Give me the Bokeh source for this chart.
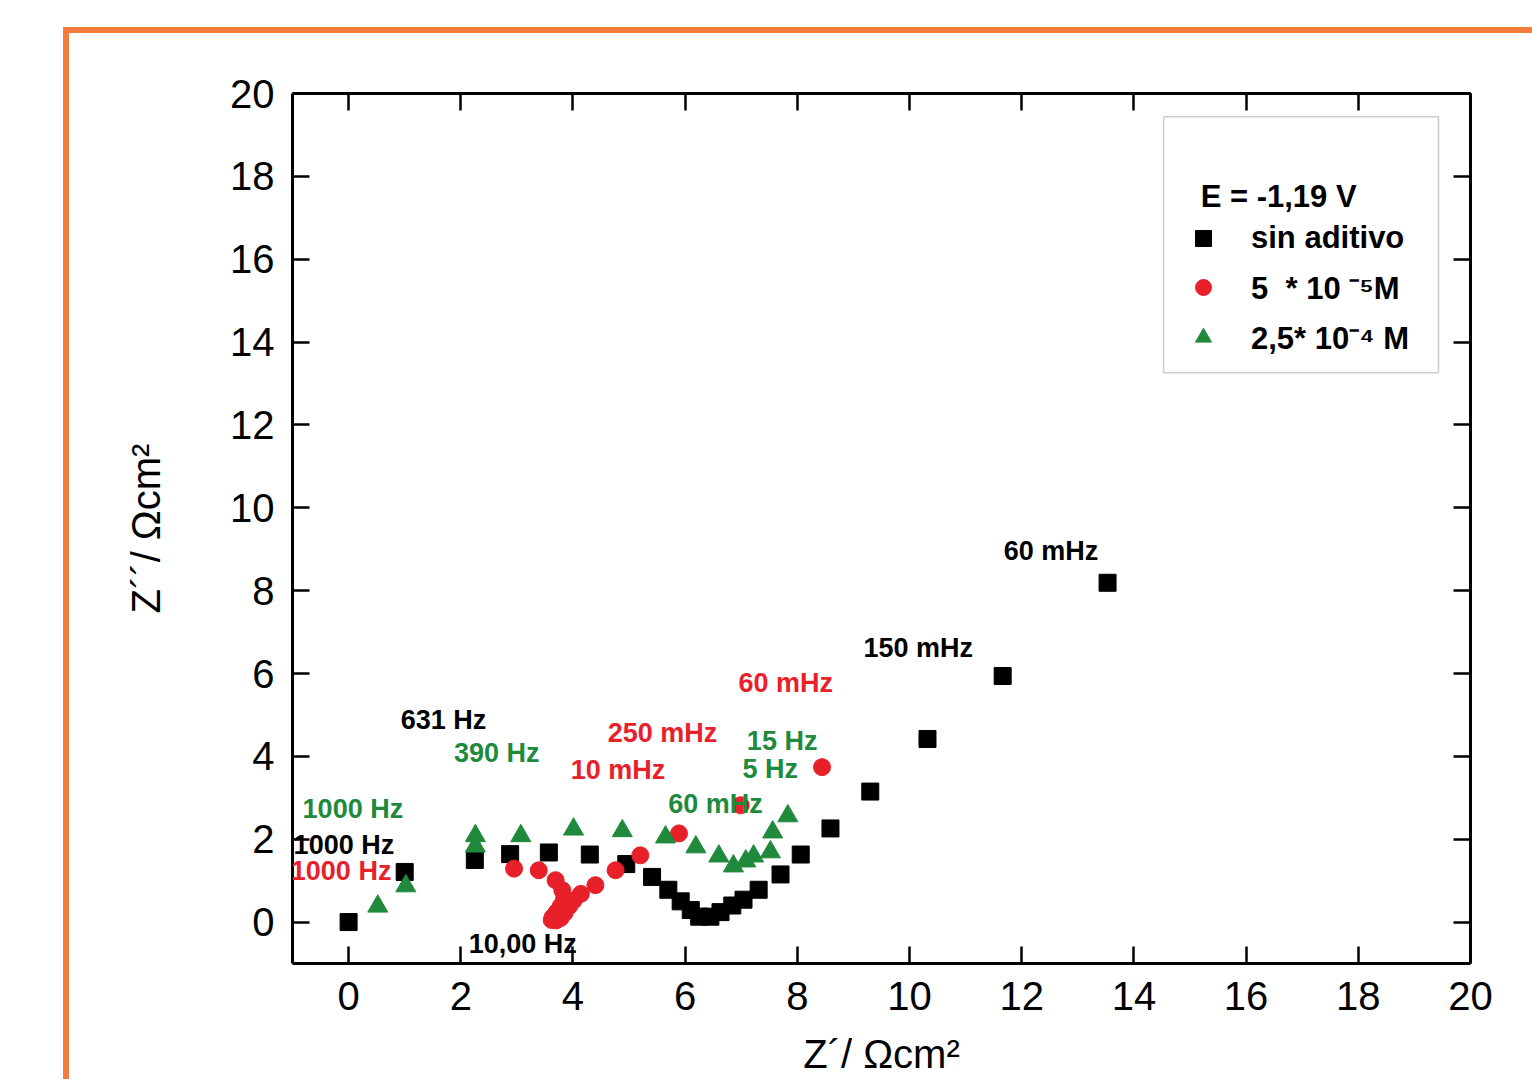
from bokeh.plotting import figure
from bokeh.models import (Range1d, LinearAxis, FixedTicker, ColumnDataSource, LabelSet,
                          Legend, LegendItem, BoxAnnotation, Label)
from bokeh.core.properties import value
from bokeh.embed import file_html
from bokeh.resources import INLINE

# ---- data ----
sin_x = [0.00, 1.00, 2.25, 2.88, 3.57, 4.30, 4.95, 5.41, 5.70, 5.92, 6.10, 6.25, 6.45,
         6.63, 6.84, 7.04, 7.31, 7.70, 8.06, 8.59, 9.30, 10.32, 11.66, 13.53]
sin_y = [0.00, 1.21, 1.50, 1.64, 1.68, 1.63, 1.40, 1.09, 0.78, 0.50, 0.29, 0.13, 0.13,
         0.24, 0.40, 0.54, 0.78, 1.15, 1.63, 2.26, 3.15, 4.42, 5.94, 8.19]

c5_x = [2.95, 3.39, 3.69, 3.81, 3.84, 3.78, 3.71, 3.64, 3.62, 3.70, 3.78, 3.85, 3.93,
        4.01, 4.14, 4.40, 4.76, 5.20, 5.89, 6.99, 8.44]
c5_y = [1.29, 1.25, 1.01, 0.77, 0.56, 0.38, 0.24, 0.12, 0.05, 0.04, 0.10, 0.22, 0.38,
        0.52, 0.68, 0.89, 1.25, 1.61, 2.14, 2.82, 3.74]

c25_x = [0.52, 1.02, 2.26, 2.26, 3.07, 4.01, 4.88, 5.65, 6.19, 6.60, 6.86, 7.08, 7.22,
         7.52, 7.56, 7.83]
c25_y = [0.38, 0.87, 2.08, 1.83, 2.08, 2.24, 2.20, 2.05, 1.81, 1.59, 1.35, 1.47, 1.59,
         1.69, 2.17, 2.56]

lab_text = ["1000 Hz", "1000 Hz", "1000 Hz", "631 Hz", "390 Hz", "10,00 Hz", "250 mHz",
            "10 mHz", "15 Hz", "5 Hz", "60 mHz", "60 mHz", "150 mHz", "60 mHz"]
lab_color = ["#208a3c", "#000000", "#e8202a", "#000000", "#208a3c", "#000000", "#e8202a",
             "#e8202a", "#208a3c", "#208a3c", "#208a3c", "#e8202a", "#000000", "#000000"]
lab_x = [-0.82, -0.98, -1.03, 0.93, 1.88, 2.14, 4.62, 3.96, 7.10, 7.02, 5.70, 6.95, 9.18, 11.68]
lab_y = [2.73, 1.86, 1.23, 4.87, 4.08, -0.53, 4.57, 3.67, 4.37, 3.70, 2.85, 5.77, 6.62, 8.96]

tick_values = [0, 2, 4, 6, 8, 10, 12, 14, 16, 18, 20]
series_names = ["sin aditivo", "5  * 10 \u207b\u2075M", "2,5* 10\u207b\u2074 M"]
legend_title = "E = -1,19 V"

FONT = "Liberation Sans"

# page offsets (orange frame drawn as CSS border around the canvas)
OX, OY, BW = 69, 33, 6

p = figure(frame_width=1178, frame_height=870,
           x_range=Range1d(-1, 20), y_range=Range1d(-1, 20),
           output_backend="svg", toolbar_location=None,
           x_axis_location=None, y_axis_location=None,
           min_border_left=292 - OX, min_border_right=62, min_border_top=93 - OY,
           min_border_bottom=116)
p.grid.visible = False
p.outline_line_color = None
p.background_fill_color = "white"
p.border_fill_color = "white"
p.margin = (OY - BW, 0, 0, OX - BW)
p.styles = {"border-left": "6px solid #f47b3a", "border-top": "6px solid #f47b3a",
            "box-sizing": "content-box"}


def make_axis(show_labels, label=None, label_standoff=0):
    ax = LinearAxis(ticker=FixedTicker(ticks=tick_values),
                    axis_line_width=3, axis_line_color="black",
                    major_tick_in=17, major_tick_out=0, major_tick_line_width=2.5,
                    minor_tick_line_color=None,
                    major_label_text_font=FONT, major_label_text_font_size="40px",
                    major_label_text_color="black", major_label_standoff=18)
    if not show_labels:
        ax.major_label_text_font_size = "0px"
        ax.major_label_text_alpha = 0
    if label:
        ax.axis_label = label
        ax.axis_label_text_font = FONT
        ax.axis_label_text_font_size = "40px"
        ax.axis_label_text_font_style = "normal"
        ax.axis_label_text_color = "black"
        ax.axis_label_standoff = label_standoff
    return ax


p.add_layout(make_axis(True, "Z\u00b4/ \u03a9cm\u00b2", 19), "below")
p.add_layout(make_axis(True, "Z\u00b4\u00b4/ \u03a9cm\u00b2", 59), "left")
p.add_layout(make_axis(False), "above")
p.add_layout(make_axis(False), "right")

r_sin = p.scatter(sin_x, sin_y, marker="square", size=17, fill_color="black", line_color="black")
r_c5 = p.scatter(c5_x, c5_y, marker="circle", size=17, fill_color="#e8202a", line_color="#e8202a")
r_c25 = p.scatter(c25_x, c25_y, marker="triangle", size=20, fill_color="#208a3c", line_color="#208a3c")

lab_src = ColumnDataSource(dict(x=lab_x, y=lab_y, text=lab_text, color=lab_color))
p.add_layout(LabelSet(x="x", y="y", text="text", source=lab_src, text_color="color",
                      text_font=value(FONT), text_font_style="bold", text_font_size="27px",
                      text_align="left", text_baseline="middle"))

# legend box
p.add_layout(BoxAnnotation(left=14.53, right=19.43, bottom=13.26, top=19.44,
                           fill_color=None, line_color="#555555", line_width=1.5))
p.add_layout(Label(x=15.19, y=17.51, text=legend_title, text_font=FONT,
                   text_font_style="bold", text_font_size="31px", text_baseline="middle",
                   text_color="black"))
legend = Legend(items=[LegendItem(label=series_names[0], renderers=[r_sin]),
                       LegendItem(label=series_names[1], renderers=[r_c5]),
                       LegendItem(label=series_names[2], renderers=[r_c25])],
                location=(891, 605), glyph_width=40, glyph_height=40, label_height=40,
                spacing=8, padding=10, margin=0, label_standoff=28,
                label_text_font=FONT, label_text_font_style="bold", label_text_font_size="31px",
                label_text_color="black",
                border_line_color=None, background_fill_alpha=0)
p.add_layout(legend)

open("out.html", "w").write(file_html(p, INLINE))
